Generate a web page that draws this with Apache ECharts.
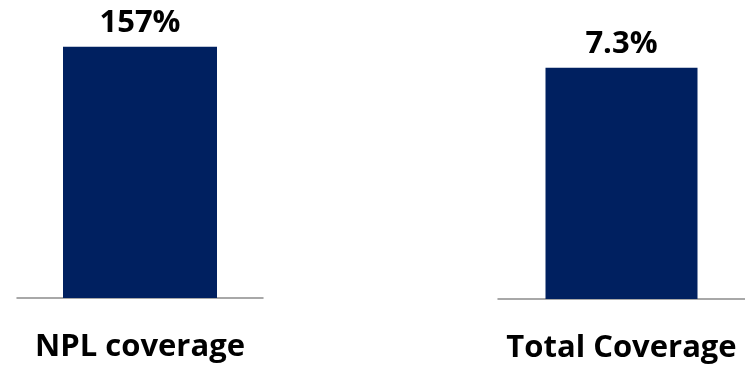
<!DOCTYPE html>
<html>
<head>
<meta charset="utf-8">
<script src="https://cdn.jsdelivr.net/npm/echarts@6/dist/echarts.min.js"></script>
<style>
  html, body { margin: 0; padding: 0; background: #ffffff; }
  #chart { width: 745px; height: 368px; }
</style>
</head>
<body>
<div id="chart"></div>
<script>
// Coverage ratios, one panel per metric
const categories = ['NPL coverage', 'Total Coverage'];
const values = [157, 7.3];
const axisMax = [180, 9];

const BAR_COLOR = '#002060';
const AXIS_COLOR = '#8c8c8c';
const FONT = '"Open Sans", "Liberation Sans", Arial, sans-serif';

const grids = [
  { left: 17, width: 246, top: 10, bottom: 70 },
  { left: 498, width: 247, top: 14, bottom: 69 }
];
const barWidths = [154, 152];

const chart = echarts.init(document.getElementById('chart'), null, { renderer: 'canvas' });

chart.setOption({
  animation: false,
  backgroundColor: '#ffffff',
  grid: grids,
  xAxis: categories.map((c, i) => ({
    type: 'category',
    gridIndex: i,
    data: [c],
    axisLine: { show: true, lineStyle: { color: AXIS_COLOR, width: 1.5 } },
    axisTick: { show: false },
    axisLabel: {
      color: '#000000',
      fontFamily: FONT,
      fontWeight: 'bold',
      fontSize: 31,
      margin: 34
    }
  })),
  yAxis: categories.map((c, i) => ({
    type: 'value',
    gridIndex: i,
    min: 0,
    max: axisMax[i],
    show: false,
    splitLine: { show: false }
  })),
  series: categories.map((c, i) => ({
    type: 'bar',
    xAxisIndex: i,
    yAxisIndex: i,
    data: [values[i]],
    barWidth: barWidths[i],
    itemStyle: { color: BAR_COLOR },
    label: {
      show: true,
      position: 'top',
      distance: 8,
      color: '#000000',
      fontFamily: FONT,
      fontWeight: 'bold',
      fontSize: 31,
      formatter: (p) => p.value + '%'
    }
  }))
});
</script>
</body>
</html>
